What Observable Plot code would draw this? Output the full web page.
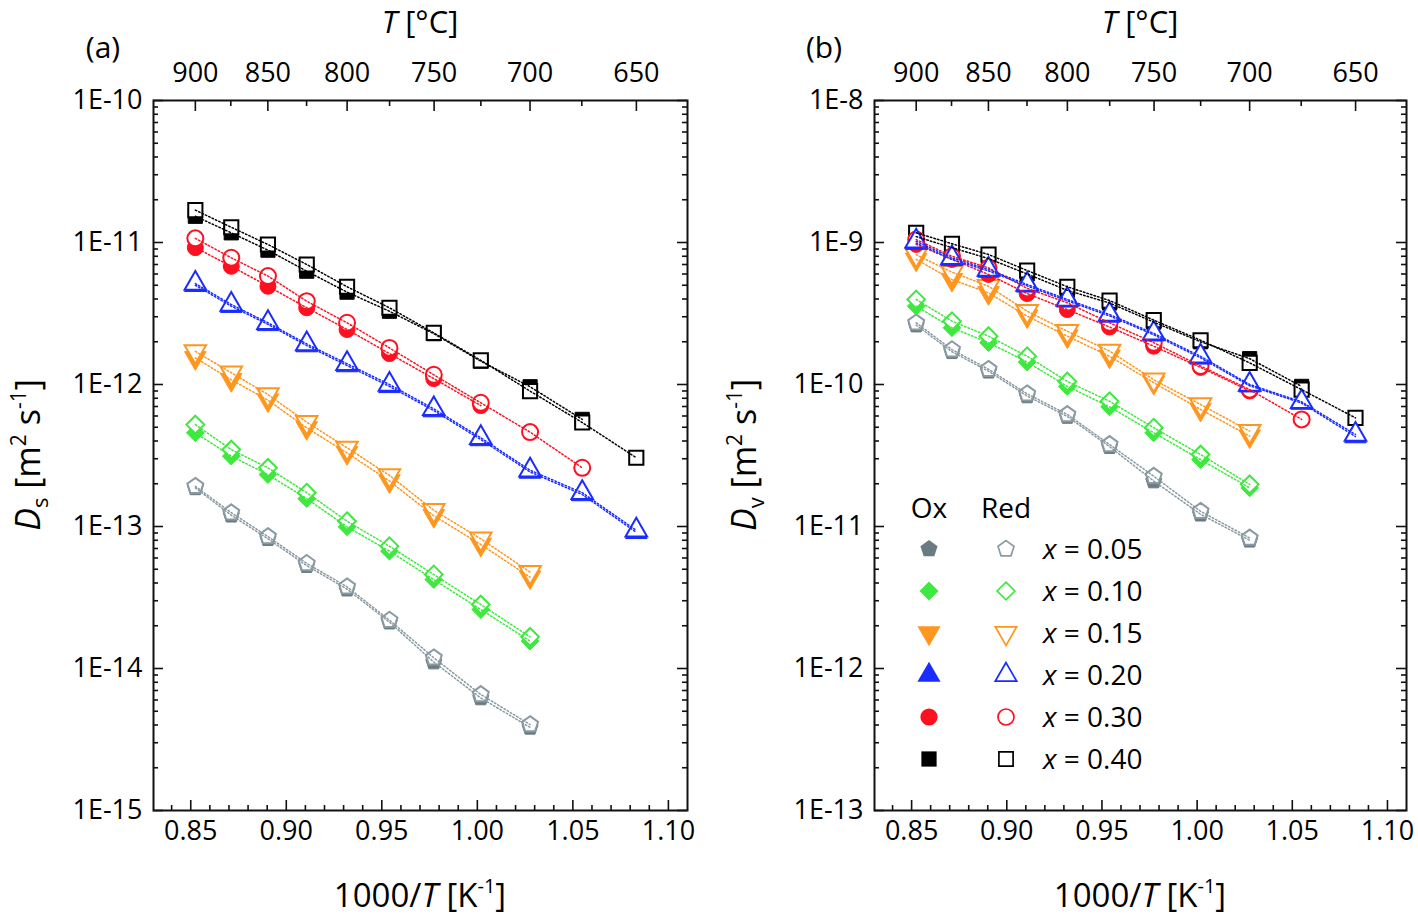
<!DOCTYPE html>
<html><head><meta charset="utf-8">
<script src="https://cdn.jsdelivr.net/npm/d3@7"></script>
<script src="https://cdn.jsdelivr.net/npm/@observablehq/plot@0.6"></script>
<style>
body{margin:0;background:#fff;}
#wrap{display:flex;width:1418px;height:920px;overflow:hidden;}
#wrap svg{overflow:visible;}
</style></head><body><div id="wrap"></div>
<script>
// ---------- data ----------
const invT = [0.8524, 0.8712, 0.8904, 0.9107, 0.9318, 0.9540, 0.9772, 1.0018, 1.0276, 1.0549, 1.0832];
const compositions = ["x = 0.05", "x = 0.10", "x = 0.15", "x = 0.20", "x = 0.30", "x = 0.40"];
const topTempsMajor = [900, 850, 800, 750, 700, 650];
const topTempsMinor = [875, 825, 775, 725, 675];
const xTicksMajor = [0.85, 0.90, 0.95, 1.00, 1.05, 1.10];
const yTicksA = [1e-15, 1e-14, 1e-13, 1e-12, 1e-11, 1e-10];
const yTicksB = [1e-13, 1e-12, 1e-11, 1e-10, 1e-9, 1e-8];

// panel (a): Ds
const dsOx05  = [1.87e-13, 1.20e-13, 8.2e-14, 5.3e-14, 3.62e-14, 2.12e-14, 1.11e-14, 6.2e-15, 3.85e-15];
const dsRed05 = [1.92e-13, 1.25e-13, 8.5e-14, 5.5e-14, 3.76e-14, 2.19e-14, 1.19e-14, 6.56e-15, 4.03e-15];
const dsOx10  = [4.57e-13, 3.13e-13, 2.32e-13, 1.57e-13, 9.95e-14, 6.7e-14, 4.23e-14, 2.6e-14, 1.56e-14];
const dsRed10 = [5.22e-13, 3.48e-13, 2.59e-13, 1.73e-13, 1.09e-13, 7.26e-14, 4.59e-14, 2.82e-14, 1.67e-14];
const dsOx15  = [1.54e-12, 1.08e-12, 7.76e-13, 4.95e-13, 3.30e-13, 2.09e-13, 1.19e-13, 7.47e-14, 4.4e-14];
const dsRed15 = [1.71e-12, 1.21e-12, 8.5e-13, 5.43e-13, 3.58e-13, 2.29e-13, 1.30e-13, 8.2e-14, 4.77e-14];
const dsOx20  = [5.0e-12, 3.56e-12, 2.65e-12, 1.88e-12, 1.36e-12, 9.7e-13, 6.55e-13, 4.1e-13, 2.42e-13, 1.68e-13, 9.1e-14];
const dsRed20 = [5.14e-12, 3.66e-12, 2.72e-12, 1.93e-12, 1.40e-12, 1.0e-12, 6.74e-13, 4.22e-13, 2.49e-13, 1.73e-13, 9.4e-14];
const dsOx30  = [9.2e-12, 6.8e-12, 4.92e-12, 3.47e-12, 2.44e-12, 1.65e-12, 1.10e-12, 7.1e-13];
const dsRed30 = [1.07e-11, 7.8e-12, 5.8e-12, 3.86e-12, 2.72e-12, 1.81e-12, 1.17e-12, 7.43e-13, 4.62e-13, 2.59e-13];
const dsOx40  = [1.53e-11, 1.17e-11, 8.83e-12, 6.28e-12, 4.47e-12, 3.28e-12, 2.28e-12, 1.46e-12, 9.64e-13, 5.68e-13];
const dsRed40 = [1.69e-11, 1.28e-11, 9.68e-12, 7.0e-12, 4.88e-12, 3.47e-12, 2.31e-12, 1.48e-12, 8.98e-13, 5.4e-13, 3.05e-13];

// panel (b): Dv
const dvOx05  = [2.62e-10, 1.70e-10, 1.24e-10, 8.3e-11, 5.95e-11, 3.65e-11, 2.09e-11, 1.22e-11, 8.0e-12];
const dvRed05 = [2.72e-10, 1.76e-10, 1.28e-10, 8.6e-11, 6.15e-11, 3.78e-11, 2.26e-11, 1.28e-11, 8.3e-12];
const dvOx10  = [3.56e-10, 2.51e-10, 1.97e-10, 1.44e-10, 9.7e-11, 6.96e-11, 4.57e-11, 2.96e-11, 1.87e-11];
const dvRed10 = [3.97e-10, 2.79e-10, 2.19e-10, 1.58e-10, 1.05e-10, 7.62e-11, 4.96e-11, 3.21e-11, 1.98e-11];
const dvOx15  = [7.6e-10, 5.48e-10, 4.42e-10, 3.03e-10, 2.19e-10, 1.58e-10, 1.03e-10, 6.67e-11, 4.33e-11];
const dvRed15 = [8.2e-10, 6.18e-10, 4.92e-10, 3.28e-10, 2.37e-10, 1.72e-10, 1.08e-10, 7.23e-11, 4.69e-11];
const dvOx20  = [9.9e-10, 7.6e-10, 6.3e-10, 4.95e-10, 3.88e-10, 3.04e-10, 2.24e-10, 1.54e-10, 9.8e-11, 7.4e-11, 4.3e-11];
const dvRed20 = [1.02e-9, 7.8e-10, 6.45e-10, 5.06e-10, 3.97e-10, 3.11e-10, 2.29e-10, 1.58e-10, 1.0e-10, 7.55e-11, 4.45e-11];
const dvOx30  = [9.7e-10, 7.6e-10, 5.96e-10, 4.37e-10, 3.37e-10, 2.54e-10, 1.86e-10, 1.32e-10, 9.0e-11];
const dvRed30 = [1.05e-9, 8.0e-10, 6.63e-10, 4.75e-10, 3.76e-10, 2.72e-10, 1.97e-10, 1.35e-10, 9.2e-11, 5.68e-11];
const dvOx40  = [1.10e-9, 9.2e-10, 7.7e-10, 6.0e-10, 4.6e-10, 3.75e-10, 2.75e-10, 2.0e-10, 1.52e-10, 9.7e-11];
const dvRed40 = [1.17e-9, 9.8e-10, 8.23e-10, 6.35e-10, 4.88e-10, 3.9e-10, 2.84e-10, 2.05e-10, 1.42e-10, 9.2e-11, 5.82e-11];

// ---------- styles ----------
const FONT = "Open Sans";
const pentagon = {draw(ctx, size) {
  const R = Math.sqrt(size / Math.PI) * 1.05;
  for (let k = 0; k < 5; k++) {
    const a = -Math.PI / 2 + k * 2 * Math.PI / 5;
    const px = R * Math.cos(a), py = R * Math.sin(a);
    if (k) ctx.lineTo(px, py); else ctx.moveTo(px, py);
  }
  ctx.closePath();
}};
const triDown = {draw(ctx, size) {
  const y = Math.sqrt(size / (3 * Math.sqrt(3)));
  const c = Math.sqrt(3);
  ctx.moveTo(0, 2 * y); ctx.lineTo(-c * y, -y); ctx.lineTo(c * y, -y); ctx.closePath();
}};
const styles = [
  {fill: "#6b7b83", stroke: "#8a9aa2", line: "#8a9aa2", symbol: pentagon},
  {fill: "#3fe83f", stroke: "#3fe83f", line: "#3fe83f", symbol: d3.symbolDiamond2},
  {fill: "#ff961f", stroke: "#ff961f", line: "#ff961f", symbol: triDown},
  {fill: "#1a2cff", stroke: "#1a2cff", line: "#1a2cff", symbol: d3.symbolTriangle},
  {fill: "#ff1020", stroke: "#ff1020", line: "#ff1020", symbol: d3.symbolCircle},
  {fill: "#000000", stroke: "#000000", line: "#000000", symbol: d3.symbolSquare}
];
const pts = ys => ys.map((y, i) => ({x: invT[i], y}));

function panel({width, ml, mr, yDomain, yTicks, ox, red, drawOrder, letter, sub, ylabX, legend}) {
  const H = 920, mt = 100, mb = 110;
  const fw = width - ml - mr, fh = H - mt - mb;
  const xDomain = [0.8305, 1.110];
  const yMinor = d3.scaleLog().domain(yDomain).ticks().filter(v => !yTicks.some(t => Math.abs(t - v) / t < 1e-6));
  const xMinor = d3.range(84, 111, 1).map(v => v / 100).filter(v => !xTicksMajor.some(t => Math.abs(t - v) < 1e-6));
  const toInv = T => 1000 / (T + 273.15);
  const tick = {stroke: "#111", strokeWidth: 1.6};
  const marks = [
    Plot.ruleY(yTicks, {...tick, insetRight: fw - 10}),
    Plot.ruleY(yMinor, {...tick, insetRight: fw - 5}),
    Plot.ruleY(yTicks, {...tick, insetLeft: fw - 10}),
    Plot.ruleY(yMinor, {...tick, insetLeft: fw - 5}),
    Plot.ruleX(xTicksMajor, {...tick, insetTop: fh - 10}),
    Plot.ruleX(xMinor, {...tick, insetTop: fh - 5}),
    Plot.ruleX(topTempsMajor.map(toInv), {...tick, insetBottom: fh - 11}),
    Plot.ruleX(topTempsMinor.map(toInv), {...tick, insetBottom: fh - 6}),
    Plot.axisY(yTicks, {anchor: "left", tickSize: 0, tickPadding: 11, fontSize: 27, label: null,
      tickFormat: d => "1E" + Math.round(Math.log10(d))}),
    Plot.axisX(xTicksMajor, {anchor: "bottom", tickSize: 0, tickPadding: 10, fontSize: 27, label: null,
      tickFormat: d3.format(".2f")}),
    Plot.axisX(topTempsMajor.map(toInv), {anchor: "top", tickSize: 0, tickPadding: 19, fontSize: 27, label: null,
      tickFormat: d => String(Math.round(1000 / d - 273.15))})
  ];
  for (const i of drawOrder) {
    const s = styles[i];
    marks.push(Plot.dot(pts(ox[i]), {x: "x", y: "y", r: 8, symbol: s.symbol, fill: s.fill, stroke: s.fill, strokeWidth: 1}));
    marks.push(Plot.dot(pts(red[i]), {x: "x", y: "y", r: 8, symbol: s.symbol, fill: "white", stroke: s.stroke, strokeWidth: 2}));
  }
  for (const i of drawOrder) {
    const s = styles[i];
    marks.push(Plot.line(pts(ox[i]), {x: "x", y: "y", stroke: s.line, strokeWidth: 1.5, strokeDasharray: "1.5,2.2"}));
    marks.push(Plot.line(pts(red[i]), {x: "x", y: "y", stroke: s.line, strokeWidth: 1.5, strokeDasharray: "1.5,2.2"}));
  }
  marks.push(Plot.frame({stroke: "#111", strokeWidth: 2}));

  const svg = Plot.plot({
    width, height: H, marginLeft: ml, marginRight: mr, marginTop: mt, marginBottom: mb,
    style: {fontFamily: FONT, fontSize: "27px", color: "#000", background: "white", overflow: "visible"},
    x: {domain: xDomain, label: null},
    y: {type: "log", domain: yDomain, label: null},
    marks
  });

  const g = d3.select(svg).append("g").attr("font-family", FONT).attr("fill", "#000").attr("text-anchor", "start");
  const cx = ml + fw / 2;
  const t1 = g.append("text").attr("x", cx).attr("y", 33).attr("text-anchor", "middle").attr("font-size", 31);
  t1.append("tspan").attr("font-style", "italic").text("T");
  t1.append("tspan").text(" [°C]");
  const t2 = g.append("text").attr("x", cx).attr("y", 907).attr("text-anchor", "middle").attr("font-size", 33);
  t2.append("tspan").text("1000/");
  t2.append("tspan").attr("font-style", "italic").text("T");
  t2.append("tspan").text(" [K");
  t2.append("tspan").attr("font-size", 20).attr("dy", -14).text("-1");
  t2.append("tspan").attr("dy", 14).text("]");
  g.append("text").attr("x", letter.x).attr("y", 58).attr("text-anchor", "middle").attr("font-size", 30).text(letter.text);
  const t3 = g.append("text").attr("transform", `translate(${ylabX},${mt + fh / 2}) rotate(-90)`)
    .attr("text-anchor", "middle").attr("font-size", 34);
  t3.append("tspan").attr("font-style", "italic").text("D");
  t3.append("tspan").attr("font-size", 22).attr("dy", 8).text(sub);
  t3.append("tspan").attr("dy", -8).text(" [m");
  t3.append("tspan").attr("font-size", 21).attr("dy", -14).text("2");
  t3.append("tspan").attr("dy", 14).text(" s");
  t3.append("tspan").attr("font-size", 21).attr("dy", -14).text("-1");
  t3.append("tspan").attr("dy", 14).text("]");

  if (legend) {
    const L = g.append("g");
    L.append("text").attr("x", legend.oxX).attr("y", legend.headY).attr("text-anchor", "middle").attr("font-size", 28).text("Ox");
    L.append("text").attr("x", legend.redX).attr("y", legend.headY).attr("text-anchor", "middle").attr("font-size", 28).text("Red");
    compositions.forEach((c, i) => {
      const s = styles[i];
      const y = legend.rowY + i * legend.step;
      L.append("path").attr("transform", `translate(${legend.oxX},${y})`)
        .attr("d", d3.symbol(s.symbol, Math.PI * 8.6 * 8.6)()).attr("fill", s.fill);
      L.append("path").attr("transform", `translate(${legend.redX},${y})`)
        .attr("d", d3.symbol(s.symbol, Math.PI * 8 * 8)()).attr("fill", "none").attr("stroke", s.stroke).attr("stroke-width", 1.7);
      const t = L.append("text").attr("x", legend.textX).attr("y", y + 10).attr("text-anchor", "start").attr("font-size", 28);
      t.append("tspan").attr("font-style", "italic").text("x");
      t.append("tspan").text(c.slice(1));
    });
  }
  return svg;
}

const wrap = document.getElementById("wrap");
wrap.appendChild(panel({
  width: 709, ml: 153, mr: 22, yDomain: [1e-15, 1e-10], yTicks: yTicksA,
  ox: [dsOx05, dsOx10, dsOx15, dsOx20, dsOx30, dsOx40],
  red: [dsRed05, dsRed10, dsRed15, dsRed20, dsRed30, dsRed40],
  drawOrder: [0, 1, 2, 5, 4, 3],
  letter: {x: 103, text: "(a)"}, sub: "s", ylabX: 40
}));
wrap.appendChild(panel({
  width: 709, ml: 165, mr: 12, yDomain: [1e-13, 1e-8], yTicks: yTicksB,
  ox: [dvOx05, dvOx10, dvOx15, dvOx20, dvOx30, dvOx40],
  red: [dvRed05, dvRed10, dvRed15, dvRed20, dvRed30, dvRed40],
  drawOrder: [0, 1, 2, 5, 4, 3],
  letter: {x: 115, text: "(b)"}, sub: "v", ylabX: 47,
  legend: {oxX: 220, redX: 297, textX: 334, headY: 518, rowY: 549, step: 42}
}));
</script></body></html>
